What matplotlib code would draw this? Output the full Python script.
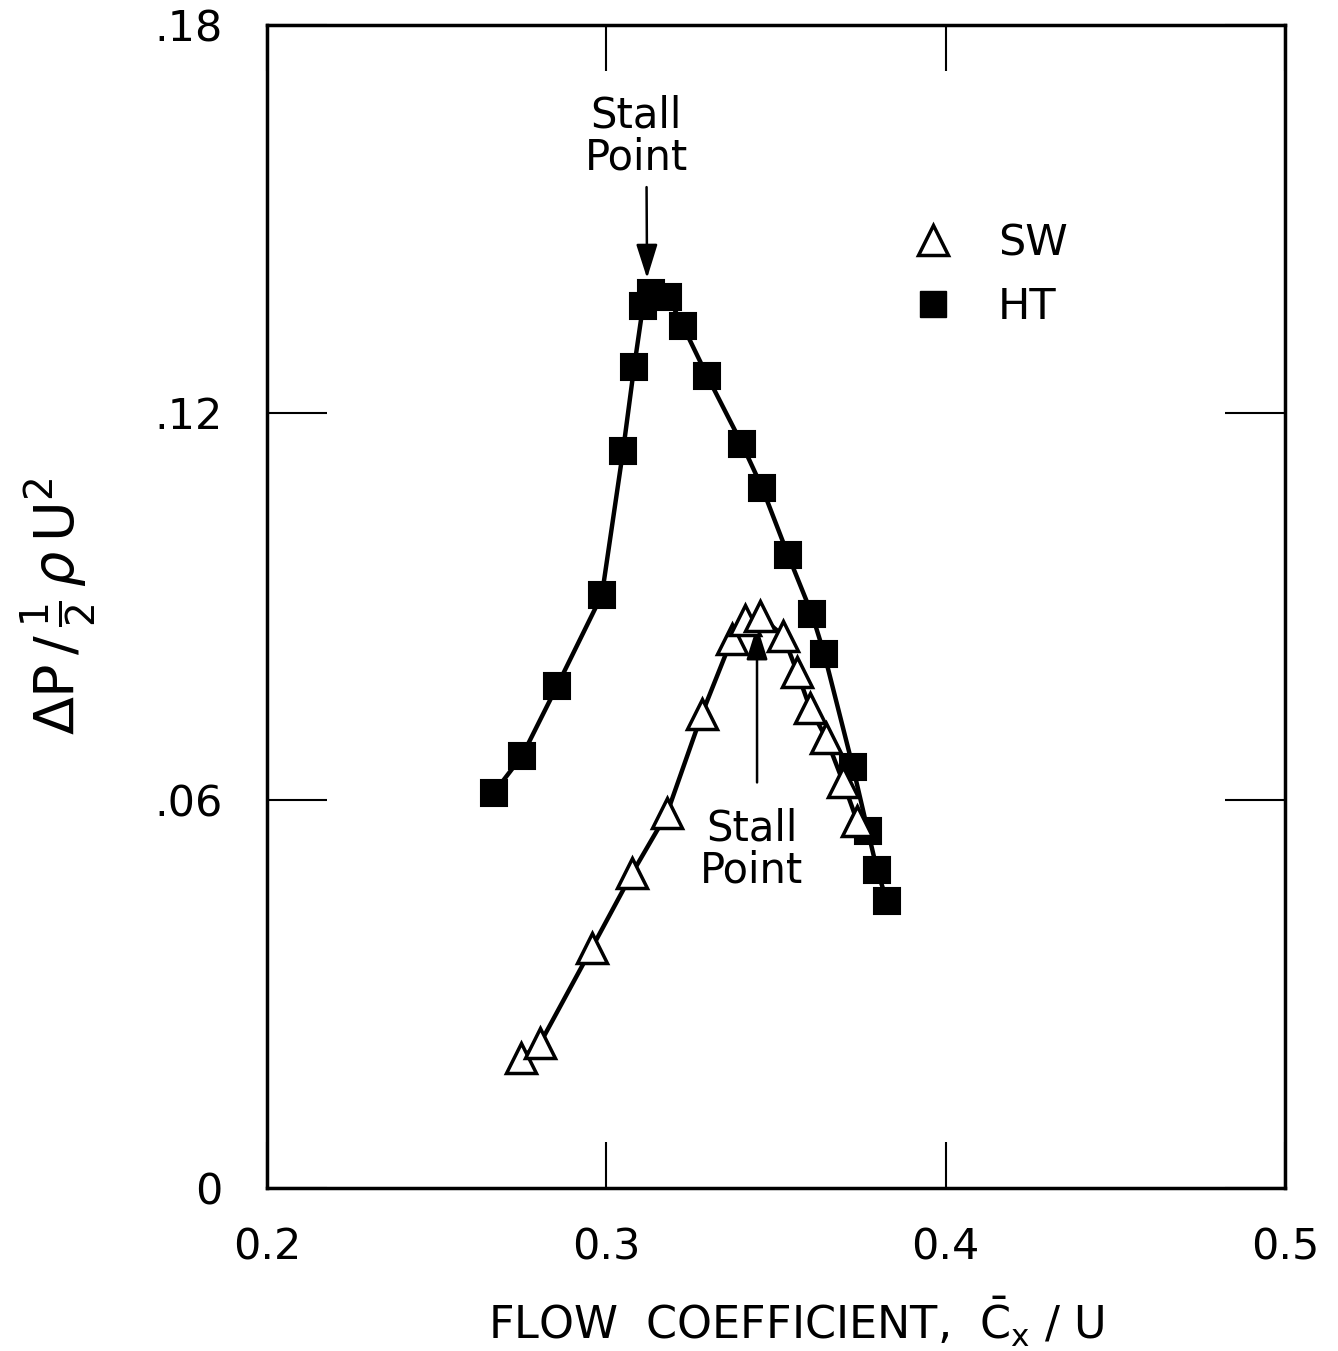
import matplotlib
matplotlib.use("Agg")
import matplotlib.pyplot as plt
from matplotlib.lines import Line2D

plt.rcParams['font.family'] = ['DejaVu Sans']
plt.rcParams['mathtext.fontset'] = 'dejavusans'

# data
ht_x = [0.2669, 0.2752, 0.2855, 0.2987, 0.3049, 0.3082, 0.3108, 0.3132, 0.3182, 0.3226,
        0.3297, 0.3400, 0.3459, 0.3536, 0.3606, 0.3642, 0.3727, 0.3771, 0.3798, 0.3827]
ht_y = [0.0612, 0.0669, 0.0777, 0.0918, 0.1140, 0.1271, 0.1365, 0.1385, 0.1379, 0.1334,
        0.1257, 0.1151, 0.1084, 0.0979, 0.0888, 0.0827, 0.0651, 0.0552, 0.0492, 0.0444]

sw_x = [0.2749, 0.2805, 0.2958, 0.3076, 0.3179, 0.3282, 0.3370, 0.3409, 0.3453, 0.3521,
        0.3562, 0.3600, 0.3648, 0.3698, 0.3739]
sw_y = [0.0201, 0.0224, 0.0372, 0.0487, 0.0580, 0.0734, 0.0850, 0.0879, 0.0885, 0.0855,
        0.0799, 0.0743, 0.0696, 0.0628, 0.0568]

x_ticks = [0.2, 0.3, 0.4, 0.5]
x_labels = ["0.2", "0.3", "0.4", "0.5"]
y_ticks = [0, 0.06, 0.12, 0.18]
y_labels = ["0", ".06", ".12", ".18"]

fig = plt.figure(figsize=(13.38, 13.51), dpi=100)
ax = fig.add_axes([267 / 1338, 1 - 1188 / 1351, (1285 - 267) / 1338, (1188 - 25) / 1351])

ax.plot(ht_x, ht_y, '-', color='black', lw=3.2, zorder=2)
ax.plot(ht_x, ht_y, 's', color='black', ms=19, mew=1.5, mec='black', zorder=3)
ax.plot(sw_x, sw_y, '-', color='black', lw=3.2, zorder=4)
ax.plot(sw_x, sw_y, '^', color='black', mfc='white', mec='black', ms=22, mew=2.5, zorder=5)

ax.set_xlim(0.2, 0.5)
ax.set_ylim(0, 0.18)
ax.set_xticks(x_ticks)
ax.set_xticklabels(x_labels)
ax.set_yticks(y_ticks)
ax.set_yticklabels(y_labels)

for s in ax.spines.values():
    s.set_linewidth(2.5)
ax.tick_params(axis='x', direction='in', top=True, length=33, width=1.5, pad=28, labelsize=31)
ax.tick_params(axis='y', direction='in', right=True, length=43, width=1.5, pad=32, labelsize=31)

ax.set_xlabel(r"FLOW  COEFFICIENT,  $\bar{\mathrm{C}}_{\mathrm{x}}$ / U", fontsize=32)
ax.xaxis.set_label_coords(0.52, -0.092)
ax.set_ylabel(r"$\Delta\mathrm{P}\,/\,\frac{1}{2}\,\rho\,\mathrm{U}^2$", fontsize=40)
ax.yaxis.set_label_coords(-0.165, 0.5)

# stall point annotations
ax.annotate("Stall\nPoint", xy=(0.3120, 0.1408), xytext=(0.3088, 0.1627),
            ha='center', va='center', fontsize=30, linespacing=1.0,
            arrowprops=dict(arrowstyle='-|>,head_length=0.7,head_width=0.22', color='black',
                            lw=1.8, mutation_scale=30, relpos=(0.6, 0), shrinkA=4, shrinkB=0))
ax.annotate("Stall\nPoint", xy=(0.3444, 0.0870), xytext=(0.3429, 0.0524),
            ha='center', va='center', fontsize=30, linespacing=1.0,
            arrowprops=dict(arrowstyle='-|>,head_length=0.7,head_width=0.22', color='black',
                            lw=1.8, mutation_scale=30, relpos=(0.55, 1), shrinkA=16, shrinkB=0))

handles = [Line2D([], [], ls='none', marker='^', mfc='white', mec='black', ms=22, mew=2.5),
           Line2D([], [], ls='none', marker='s', color='black', ms=19)]
ax.legend(handles, ["SW", "HT"], loc='center left', bbox_to_anchor=(0.6375, 0.785),
          frameon=False, fontsize=31, handlelength=0.8, handletextpad=1.1,
          borderpad=0, borderaxespad=0, labelspacing=0.5)

fig.savefig("out.png", dpi=100)
